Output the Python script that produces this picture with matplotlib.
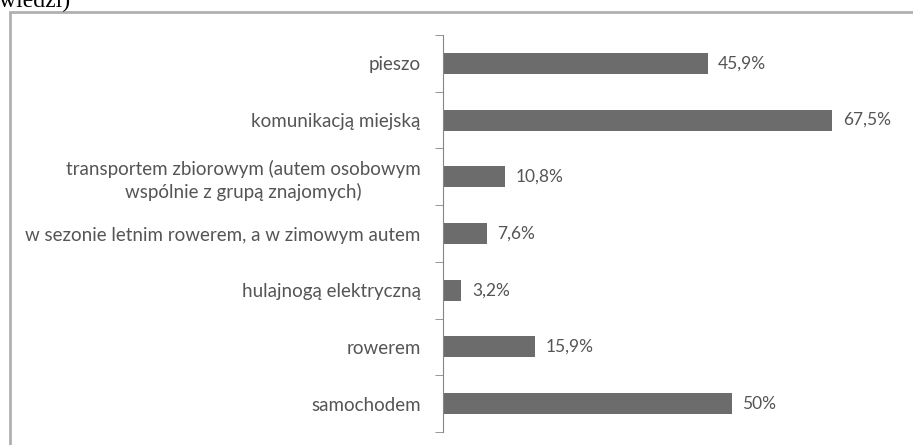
import matplotlib.pyplot as plt
from matplotlib.patches import Rectangle
import numpy as np

# answers (top to bottom) and share of respondents in %
labels = ["pieszo",
          "komunikacją miejską",
          "transportem zbiorowym (autem osobowym\nwspólnie z grupą znajomych)",
          "w sezonie letnim rowerem, a w zimowym autem",
          "hulajnogą elektryczną",
          "rowerem",
          "samochodem"]
values = [45.9, 67.5, 10.8, 7.6, 3.2, 15.9, 50]
value_text = ["45,9%", "67,5%", "10,8%", "7,6%", "3,2%", "15,9%", "50%"]

txt_col = "#555555"
bar_col = "#6c6c6c"

plt.rcParams["font.family"] = ["Lato", "DejaVu Sans"]

fig = plt.figure(figsize=(9.13, 4.45), dpi=100)

# chart frame, runs past the right and bottom edge
frame = Rectangle((10 / 913, -0.1), 1.0, (445 - 12) / 445 + 0.1, transform=fig.transFigure,
                  fill=False, edgecolor="#b0b0b0", linewidth=2.0, clip_on=False)
fig.add_artist(frame)

# leftover of the caption above the chart
fig.text(70 / 913, 1 - 7 / 445, "odpowiedzi)", ha="right", va="baseline",
         fontsize=17, family="Liberation Serif", color="black")

ax = fig.add_axes([443 / 913, 13 / 445, 80 * 5.77 / 913, 397 / 445])
y = np.arange(len(labels))
ax.barh(y, values, height=0.37, color=bar_col)
ax.set_ylim(len(labels) - 0.5, -0.5)
ax.set_xlim(0, 80)

for yi, v, t in zip(y, values, value_text):
    ax.text(v + 1.8, yi, t, va="center", ha="left", fontsize=12.5, color=txt_col)

ax.set_yticks(y)
ax.set_yticklabels(labels, fontsize=13.5, color=txt_col, linespacing=1.3)
for lab in ax.get_yticklabels():
    lab.set_multialignment("center")
ax.set_yticks(np.arange(-0.5, len(labels)), minor=True)
ax.tick_params(axis="y", which="major", length=0, pad=16)
ax.tick_params(axis="y", which="minor", length=6, color="#868686")

ax.set_xticks([])
for s in ["top", "right", "bottom"]:
    ax.spines[s].set_visible(False)
ax.spines["left"].set_color("#868686")

fig.savefig("out.png", dpi=100)
